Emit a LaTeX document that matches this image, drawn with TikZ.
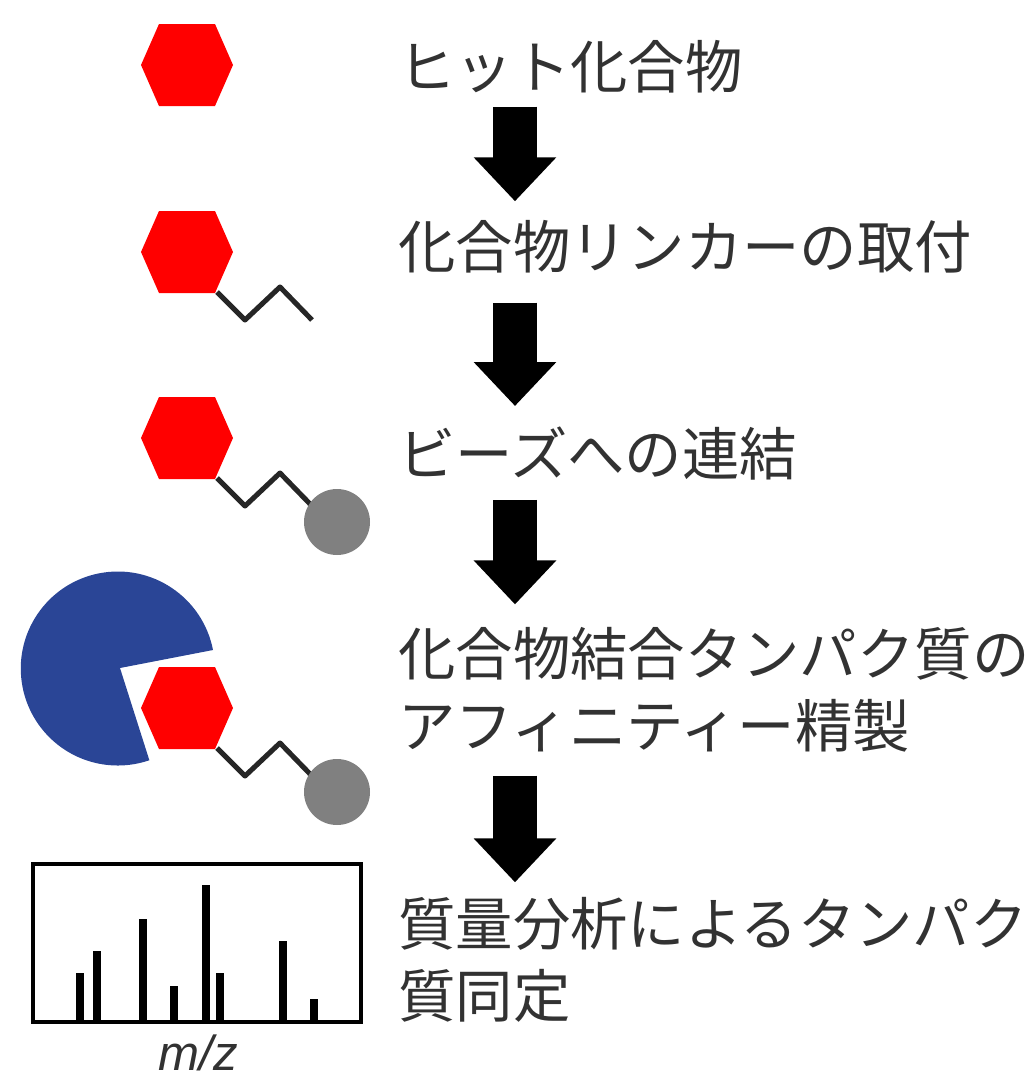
\documentclass[tikz,border=0pt]{standalone}
\usepackage{fontspec}
\setsansfont{Liberation Sans}
\newfontfamily\jpfont{Noto Sans CJK JP}
\usetikzlibrary{arrows.meta,calc}
\definecolor{hitred}{RGB}{255,0,0}
\definecolor{protblue}{RGB}{42,69,150}
\definecolor{beadgray}{RGB}{128,128,128}
\definecolor{textgray}{RGB}{50,50,50}
\tikzset{
  steplabel/.style={anchor=west,inner sep=0pt,align=left,text=textgray,
    font=\jpfont\fontsize{40.8}{51}\selectfont},
  bigarrow/.style={line width=1.1cm,-{Triangle[length=1.1cm,width=2cm]}},
  linker/.style={line width=3.6pt,line join=round,black!85},
  peak/.style={line width=5.6pt},
  compound/.pic={\fill[hitred] (-46,0) -- (-28,-41) -- (28,-41) -- (46,0) -- (28,41) -- (-28,41) -- cycle;},
  tail/.pic={\draw[linker] (30,40) -- (58,68) -- (93,35) -- (125,68);},
  bead/.pic={\fill[beadgray] (150,84) circle (33);}
}
\begin{document}
\begin{tikzpicture}[x=.025cm,y=-.025cm]
\useasboundingbox (0,0) rectangle (1033,1080);
\coordinate (axis) at (515,0);
% labels
\node[steplabel] (hit) at (398,67) {ヒット化合物};
\node[steplabel] (link) at (398,247) {化合物リンカーの取付};
\node[steplabel] (beads) at (398,453) {ビーズへの連結};
\node[steplabel] (purify) at (398,690) {化合物結合タンパク質の\\アフィニティー精製};
\node[steplabel] (ms) at (398,960) {質量分析によるタンパク\\質同定};
% arrows between the labels
\foreach \a/\b/\s/\t in {hit/link/13/19,link/beads/29/20,beads/purify/20/23,purify/ms/23/15}
  \draw[bigarrow] ($(\a.south -| axis)+(0,\s)$) -- ($(\b.north -| axis)-(0,\t)$);
% protein pocket
\fill[protblue] (120,668) -- (213,650) arc [start angle=-11, end angle=-289, radius=97] -- cycle;
% compound, linker and bead rows
\pic at (187,65) {compound};
\foreach \y in {252,438,708} {
  \pic at (187,\y) {compound};
  \pic at (187,\y) {tail};
}
\pic at (187,438) {bead};
\pic at (187,708) {bead};
% mass spectrum
\foreach \x/\y in {80/973,97/951,143/919,174/986,206/885,220/973,283/941,314/999}
  \draw[peak] (\x,1022) -- (\x,\y);
\draw[line width=3pt] (33,864) rectangle (361,1022);
\node[inner sep=0pt,font=\sffamily\itshape\fontsize{35}{35}\selectfont,text=textgray] (mz) at (198,1053) {m/z};
\end{tikzpicture}
\end{document}
